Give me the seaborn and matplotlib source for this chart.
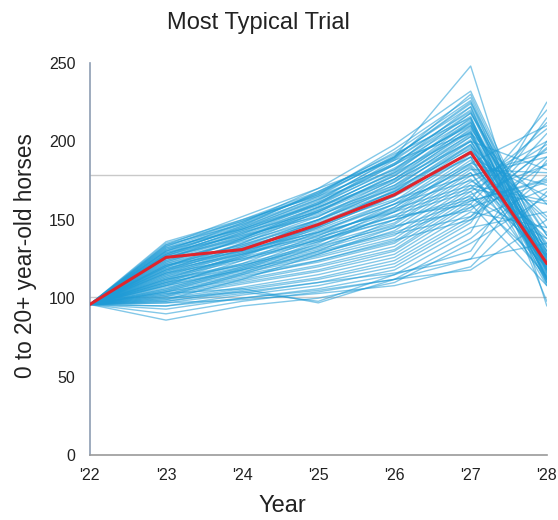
import matplotlib
matplotlib.use("Agg")
import matplotlib.pyplot as plt
import seaborn as sns
import pandas as pd

years = [2022, 2023, 2024, 2025, 2026, 2027, 2028]
year_labels = ["'22", "'23", "'24", "'25", "'26", "'27", "'28"]

typical = [96, 126, 131, 147, 166, 193, 122]

trials = [
    [96, 136, 150, 168, 190, 248, 95],
    [96, 134, 152, 170, 198, 232, 128],
    [96, 132, 148, 166, 195, 228, 120],
    [96, 130, 145, 162, 190, 225, 132],
    [96, 133, 150, 165, 185, 222, 118],
    [96, 128, 143, 160, 188, 220, 125],
    [96, 131, 146, 163, 182, 218, 140],
    [96, 129, 140, 158, 180, 215, 112],
    [96, 127, 142, 155, 178, 212, 130],
    [96, 126, 138, 156, 176, 210, 122],
    [96, 125, 140, 152, 174, 208, 145],
    [96, 124, 136, 150, 172, 205, 116],
    [96, 123, 137, 153, 170, 203, 128],
    [96, 122, 134, 148, 168, 200, 135],
    [96, 121, 133, 146, 166, 198, 110],
    [96, 120, 132, 145, 165, 196, 124],
    [96, 119, 130, 144, 162, 194, 150],
    [96, 118, 131, 142, 160, 192, 119],
    [96, 117, 129, 140, 158, 190, 165],
    [96, 116, 128, 141, 156, 188, 126],
    [96, 115, 126, 138, 155, 186, 172],
    [96, 114, 125, 137, 152, 184, 130],
    [96, 113, 124, 136, 150, 182, 180],
    [96, 112, 122, 134, 148, 180, 121],
    [96, 111, 121, 132, 147, 178, 190],
    [96, 110, 120, 131, 145, 176, 133],
    [96, 109, 118, 128, 143, 174, 200],
    [96, 108, 117, 127, 140, 172, 127],
    [96, 107, 116, 126, 138, 170, 160],
    [96, 106, 115, 124, 136, 168, 114],
    [96, 105, 114, 123, 135, 166, 185],
    [96, 104, 112, 121, 133, 164, 138],
    [96, 103, 111, 120, 131, 162, 175],
    [96, 102, 110, 118, 130, 160, 108],
    [96, 101, 109, 117, 128, 158, 195],
    [96, 100, 107, 115, 126, 155, 145],
    [96, 99, 106, 113, 124, 152, 205],
    [96, 98, 105, 112, 122, 150, 170],
    [96, 97, 103, 110, 120, 148, 215],
    [96, 95, 102, 108, 118, 145, 155],
    [96, 93, 100, 106, 115, 142, 225],
    [96, 90, 98, 104, 112, 138, 178],
    [96, 86, 95, 100, 110, 135, 165],
    [96, 100, 104, 98, 115, 130, 200],
    [96, 103, 106, 97, 112, 125, 188],
    [96, 97, 99, 103, 108, 120, 168],
    [96, 128, 146, 168, 192, 215, 98],
    [96, 130, 148, 170, 188, 205, 160],
    [96, 126, 141, 160, 185, 210, 140],
    [96, 120, 138, 158, 180, 206, 118],
    [96, 118, 135, 155, 175, 200, 182],
    [96, 115, 130, 150, 170, 195, 134],
    [96, 112, 128, 147, 168, 197, 152],
    [96, 110, 126, 145, 165, 190, 115],
    [96, 108, 124, 142, 162, 186, 210],
    [96, 106, 120, 138, 160, 183, 128],
    [96, 104, 118, 135, 158, 185, 138],
    [96, 121, 134, 150, 168, 190, 108],
    [96, 124, 139, 154, 172, 200, 113],
    [96, 127, 141, 158, 176, 204, 119],
    [96, 132, 144, 160, 182, 212, 124],
    [96, 134, 147, 164, 186, 218, 130],
    [96, 119, 132, 147, 163, 178, 193],
    [96, 113, 127, 143, 160, 175, 142],
    [96, 109, 122, 140, 157, 172, 162],
    [96, 105, 119, 136, 153, 168, 198],
    [96, 101, 115, 130, 150, 165, 120],
    [96, 99, 112, 128, 145, 162, 176],
    [96, 102, 116, 133, 155, 180, 112],
    [96, 111, 127, 146, 167, 193, 123],
    [96, 95, 100, 105, 112, 118, 150],
    [96, 98, 104, 110, 116, 125, 135],
    [96, 131, 147, 167, 193, 226, 116],
    [96, 129, 145, 165, 191, 222, 112],
    [96, 127, 144, 163, 189, 219, 118],
    [96, 125, 142, 161, 186, 216, 110],
    [96, 133, 149, 166, 190, 224, 121],
    [96, 126, 139, 157, 181, 213, 114],
    [96, 122, 137, 155, 179, 209, 126],
    [96, 120, 135, 152, 176, 206, 109],
    [96, 117, 133, 150, 174, 203, 117],
    [96, 123, 138, 156, 178, 207, 120],
    [96, 128, 143, 159, 183, 211, 111],
    [96, 130, 144, 161, 185, 214, 127],
    [96, 116, 131, 149, 171, 201, 113],
    [96, 114, 129, 146, 169, 198, 118],
    [96, 135, 149, 167, 189, 230, 124],
    [96, 118, 128, 139, 152, 160, 212],
    [96, 112, 121, 133, 146, 156, 196],
    [96, 108, 118, 129, 141, 152, 186],
    [96, 121, 130, 142, 155, 170, 208],
    [96, 104, 113, 124, 137, 150, 190],
    [96, 116, 125, 137, 150, 163, 220],
    [96, 110, 119, 130, 142, 158, 174],
]

ref_lines = [178.5, 100.5]

rows = []
for i, tr in enumerate(trials):
    for y, v in zip(years, tr):
        rows.append({"trial": i, "year": y, "value": v})
df = pd.DataFrame(rows)
df_typ = pd.DataFrame({"year": years, "value": typical})

sns.set_style("white")
plt.rcParams["font.family"] = ["Liberation Sans", "DejaVu Sans"]

fig = plt.figure(figsize=(5.58, 5.2), dpi=100)
ax = fig.add_axes([0.161, 0.125, 0.819, 0.754])

for r in ref_lines:
    ax.axhline(r, color="#c9c9c9", lw=1.0, zorder=0)

sns.lineplot(data=df, x="year", y="value", units="trial", estimator=None,
             color="#1e9bd6", alpha=0.55, lw=1.0, ax=ax, legend=False)
sns.lineplot(data=df_typ, x="year", y="value", color="#e0242c", lw=2.2,
             ax=ax, legend=False, zorder=5)

ax.set_xlim(2022, 2028)
ax.set_ylim(0, 250)
ax.set_xticks(years)
ax.set_xticklabels(year_labels)
ax.set_yticks([0, 50, 100, 150, 200, 250])

for s in ["top", "right"]:
    ax.spines[s].set_visible(False)
ax.spines["left"].set_color("#8d9db3")
ax.spines["bottom"].set_color("#9a9a9a")
ax.spines["left"].set_linewidth(1.2)
ax.spines["bottom"].set_linewidth(1.2)
ax.tick_params(axis="both", direction="inout", length=7, width=1,
               color="#8a8a8a", labelsize=11.5, labelcolor="#222222")
ax.tick_params(axis="x", pad=6)
ax.tick_params(axis="y", pad=7)

ax.set_xlabel("")
ax.set_ylabel("")
fig.text(0.506, 0.006, "Year", ha="center", va="bottom",
         fontsize=17, color="#222222")
fig.text(0.045, 0.509, "0 to 20+ year-old horses", ha="center", va="center",
         rotation=90, fontsize=16.3, color="#222222")
fig.text(0.463, 0.955, "Most Typical Trial", ha="center", va="center",
         fontsize=17, color="#222222")

fig.savefig("out.png", dpi=100)
